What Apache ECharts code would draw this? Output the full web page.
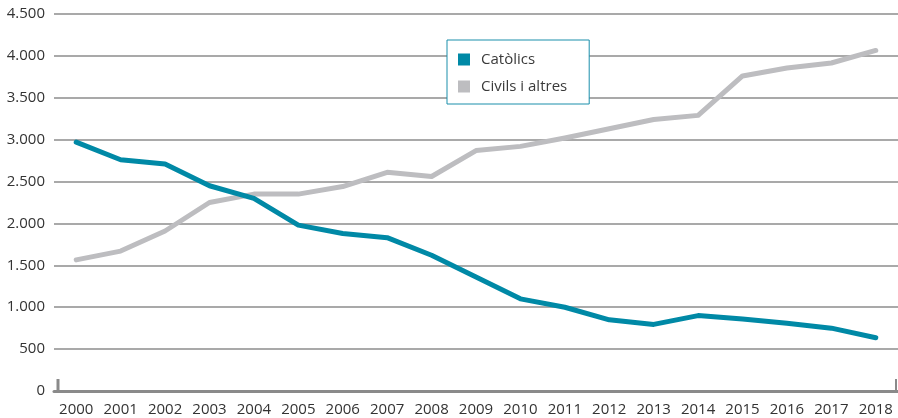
<!DOCTYPE html>
<html>
<head>
<meta charset="utf-8">
<script src="https://cdn.jsdelivr.net/npm/echarts@6/dist/echarts.min.js"></script>
<style>
html,body{margin:0;padding:0;background:#fff;}
#main{width:898px;height:418px;}
</style>
</head>
<body>
<div id="main"></div>
<script>
const years = ['2000','2001','2002','2003','2004','2005','2006','2007','2008','2009','2010','2011','2012','2013','2014','2015','2016','2017','2018'];
const catolics = [2970, 2760, 2710, 2450, 2300, 1980, 1880, 1830, 1620, 1360, 1100, 1000, 850, 795, 900, 860, 810, 750, 635];
const civils = [1565, 1670, 1910, 2250, 2350, 2350, 2440, 2610, 2560, 2870, 2920, 3020, 3130, 3240, 3290, 3760, 3855, 3915, 4065];
const yTicks = [0, 500, 1000, 1500, 2000, 2500, 3000, 3500, 4000, 4500];

const chart = echarts.init(document.getElementById('main'));
const FONT = 'Open Sans';
const fmt = v => String(v).replace(/\B(?=(\d{3})+(?!\d))/g, '.');

chart.setOption({
  animation: false,
  textStyle: {fontFamily: FONT},
  grid: {left: 54, right: -3, top: 14, bottom: 27, containLabel: false},
  legend: {
    orient: 'vertical',
    left: 447, top: 40,
    backgroundColor: '#fff',
    borderColor: '#1a8fab',
    borderWidth: 1,
    padding: [11, 22, 9, 11],
    itemGap: 10,
    itemWidth: 12, itemHeight: 12,
    icon: 'rect',
    textStyle: {fontFamily: FONT, fontSize: 15, color: '#3a3a3a', padding: [0,0,0,6], lineHeight: 17},
    data: [
      {name: 'Catòlics', itemStyle: {color: '#0089a6'}},
      {name: 'Civils i altres', itemStyle: {color: '#bdbdc0'}}
    ]
  },
  xAxis: {
    type: 'category',
    data: years,
    boundaryGap: true,
    axisLine: {show: true, lineStyle: {color: '#8a8a8a', width: 3}},
    axisTick: {show: false},
    axisLabel: {fontFamily: FONT, fontSize: 15, color: '#333', margin: 11, interval: 0, hideOverlap: false}
  },
  yAxis: {
    type: 'value',
    min: 0, max: 4500, interval: 500,
    axisLine: {show: false},
    axisTick: {show: false},
    axisLabel: {fontFamily: FONT, fontSize: 15, color: '#333', margin: 9,
      formatter: v => yTicks.includes(v) ? fmt(v) : ''},
    splitLine: {lineStyle: {color: '#8c8c8c', width: 1.5}}
  },
  series: [
    {name: 'Catòlics', type: 'line', data: catolics, symbol: 'none',
     lineStyle: {color: '#0089a6', width: 5, cap: 'round', join: 'round'}, itemStyle: {color: '#0089a6'}},
    {name: 'Civils i altres', type: 'line', data: civils, symbol: 'none', z: 1,
     lineStyle: {color: '#bdbdc0', width: 5, cap: 'round', join: 'round'}, itemStyle: {color: '#bdbdc0'}}
  ]
});

// End ticks on x axis baseline
const p0 = chart.convertToPixel({gridIndex: 0}, [0, 0]);
const leftX = 58, rightX = 896;
chart.setOption({
  graphic: [
    {type: 'line', shape: {x1: leftX, y1: p0[1] - 12, x2: leftX, y2: p0[1]}, style: {stroke: '#8a8a8a', lineWidth: 3}},
    {type: 'line', shape: {x1: rightX, y1: p0[1] - 12, x2: rightX, y2: p0[1]}, style: {stroke: '#8a8a8a', lineWidth: 2}}
  ]
});
</script>
</body>
</html>
